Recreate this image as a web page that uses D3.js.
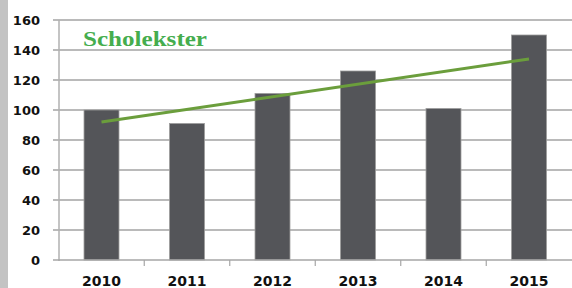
<!DOCTYPE html>
<html><head><meta charset="utf-8">
<script src="https://cdn.jsdelivr.net/npm/d3@7"></script>
<style>body{margin:0;background:#fff;}svg{display:block;}</style>
</head><body>
<svg id="c" width="572" height="288"></svg>
<script>
const categories = ["2010","2011","2012","2013","2014","2015"];
const values = [100, 91, 111, 126, 101, 150];
const trendCategories = ["2010","2015"];
const trendValues = [92, 134];
const yTicks = [0,20,40,60,80,100,120,140,160];
const title = "Scholekster";

const svg = d3.select("#c");
const W = 572, H = 288;
const mLeft = 58.75, mRight = 571.75, mTop = 20, mBottom = 260;

const defs = svg.append("defs");
const f = defs.append("filter").attr("id","sh").attr("x","-5%").attr("y","-200%").attr("width","110%").attr("height","500%");
f.append("feGaussianBlur").attr("stdDeviation",1.2);

svg.append("rect").attr("x",0).attr("y",0).attr("width",W).attr("height",H).attr("fill","#fff");
svg.append("rect").attr("x",0).attr("y",0).attr("width",8).attr("height",H).attr("fill","#c3c3c3");

const x = d3.scaleBand().domain(categories).range([mLeft,mRight]).paddingInner(0.591).paddingOuter(0.2955);
const y = d3.scaleLinear().domain([0,160]).range([mBottom,mTop]);

// gridlines
svg.append("g").selectAll("line").data(yTicks.filter(d=>d>0)).join("line")
  .attr("x1",53).attr("x2",W).attr("y1",d=>y(d)).attr("y2",d=>y(d))
  .attr("stroke","#a3a3a3").attr("stroke-width",1.5);

// y axis
svg.append("line").attr("x1",59).attr("x2",59).attr("y1",y(160)).attr("y2",y(0)+1)
  .attr("stroke","#b0b0b0").attr("stroke-width",1.5);

// y labels
svg.append("g").selectAll("text").data(yTicks).join("text")
  .attr("x",40).attr("y",d=>y(d)).attr("dy","0.36em").attr("text-anchor","end")
  .attr("font-family","DejaVu Sans").attr("font-weight","bold").attr("font-size",13)
  .attr("fill","#111").text(d=>d);

// bars
svg.append("g").selectAll("rect").data(categories).join("rect")
  .attr("x",d=>x(d)).attr("width",x.bandwidth())
  .attr("y",(d,i)=>y(values[i])).attr("height",(d,i)=>y(0)-y(values[i]))
  .attr("fill","#545559").attr("stroke","#9c9c9c").attr("stroke-width",0.8);

// x axis shadow + line
svg.append("line").attr("x1",55).attr("x2",W).attr("y1",y(0)+2.5).attr("y2",y(0)+2.5)
  .attr("stroke","#555").attr("stroke-width",2.5).attr("opacity",0.7).attr("filter","url(#sh)");
svg.append("line").attr("x1",53).attr("x2",W).attr("y1",y(0)).attr("y2",y(0))
  .attr("stroke","#a6a6a6").attr("stroke-width",1.5);

// x ticks at category boundaries
const gap = x.step() - x.bandwidth();
svg.append("g").selectAll("line").data(categories.slice(1)).join("line")
  .attr("x1",d=>x(d)-gap/2).attr("x2",d=>x(d)-gap/2)
  .attr("y1",y(0)).attr("y2",y(0)+6)
  .attr("stroke","#a6a6a6").attr("stroke-width",1.2);

// x labels
svg.append("g").selectAll("text").data(categories).join("text")
  .attr("x",d=>x(d)+x.bandwidth()/2).attr("y",285.5).attr("text-anchor","middle")
  .attr("font-family","DejaVu Sans").attr("font-weight","bold").attr("font-size",14)
  .attr("fill","#111").text(d=>d);

// trend line
const line = d3.line().x(d=>x(d[0])+x.bandwidth()/2).y(d=>y(d[1]));
svg.append("path").datum(trendCategories.map((c,i)=>[c,trendValues[i]]))
  .attr("d",line).attr("fill","none").attr("stroke","#6b9e3c").attr("stroke-width",3);

// title
svg.append("text").attr("x",83).attr("y",46)
  .attr("font-family","Liberation Serif").attr("font-weight","bold").attr("font-size",22)
  .attr("textLength",124).attr("lengthAdjust","spacingAndGlyphs")
  .attr("fill","#45ad4e").text(title);
</script>
</body></html>
